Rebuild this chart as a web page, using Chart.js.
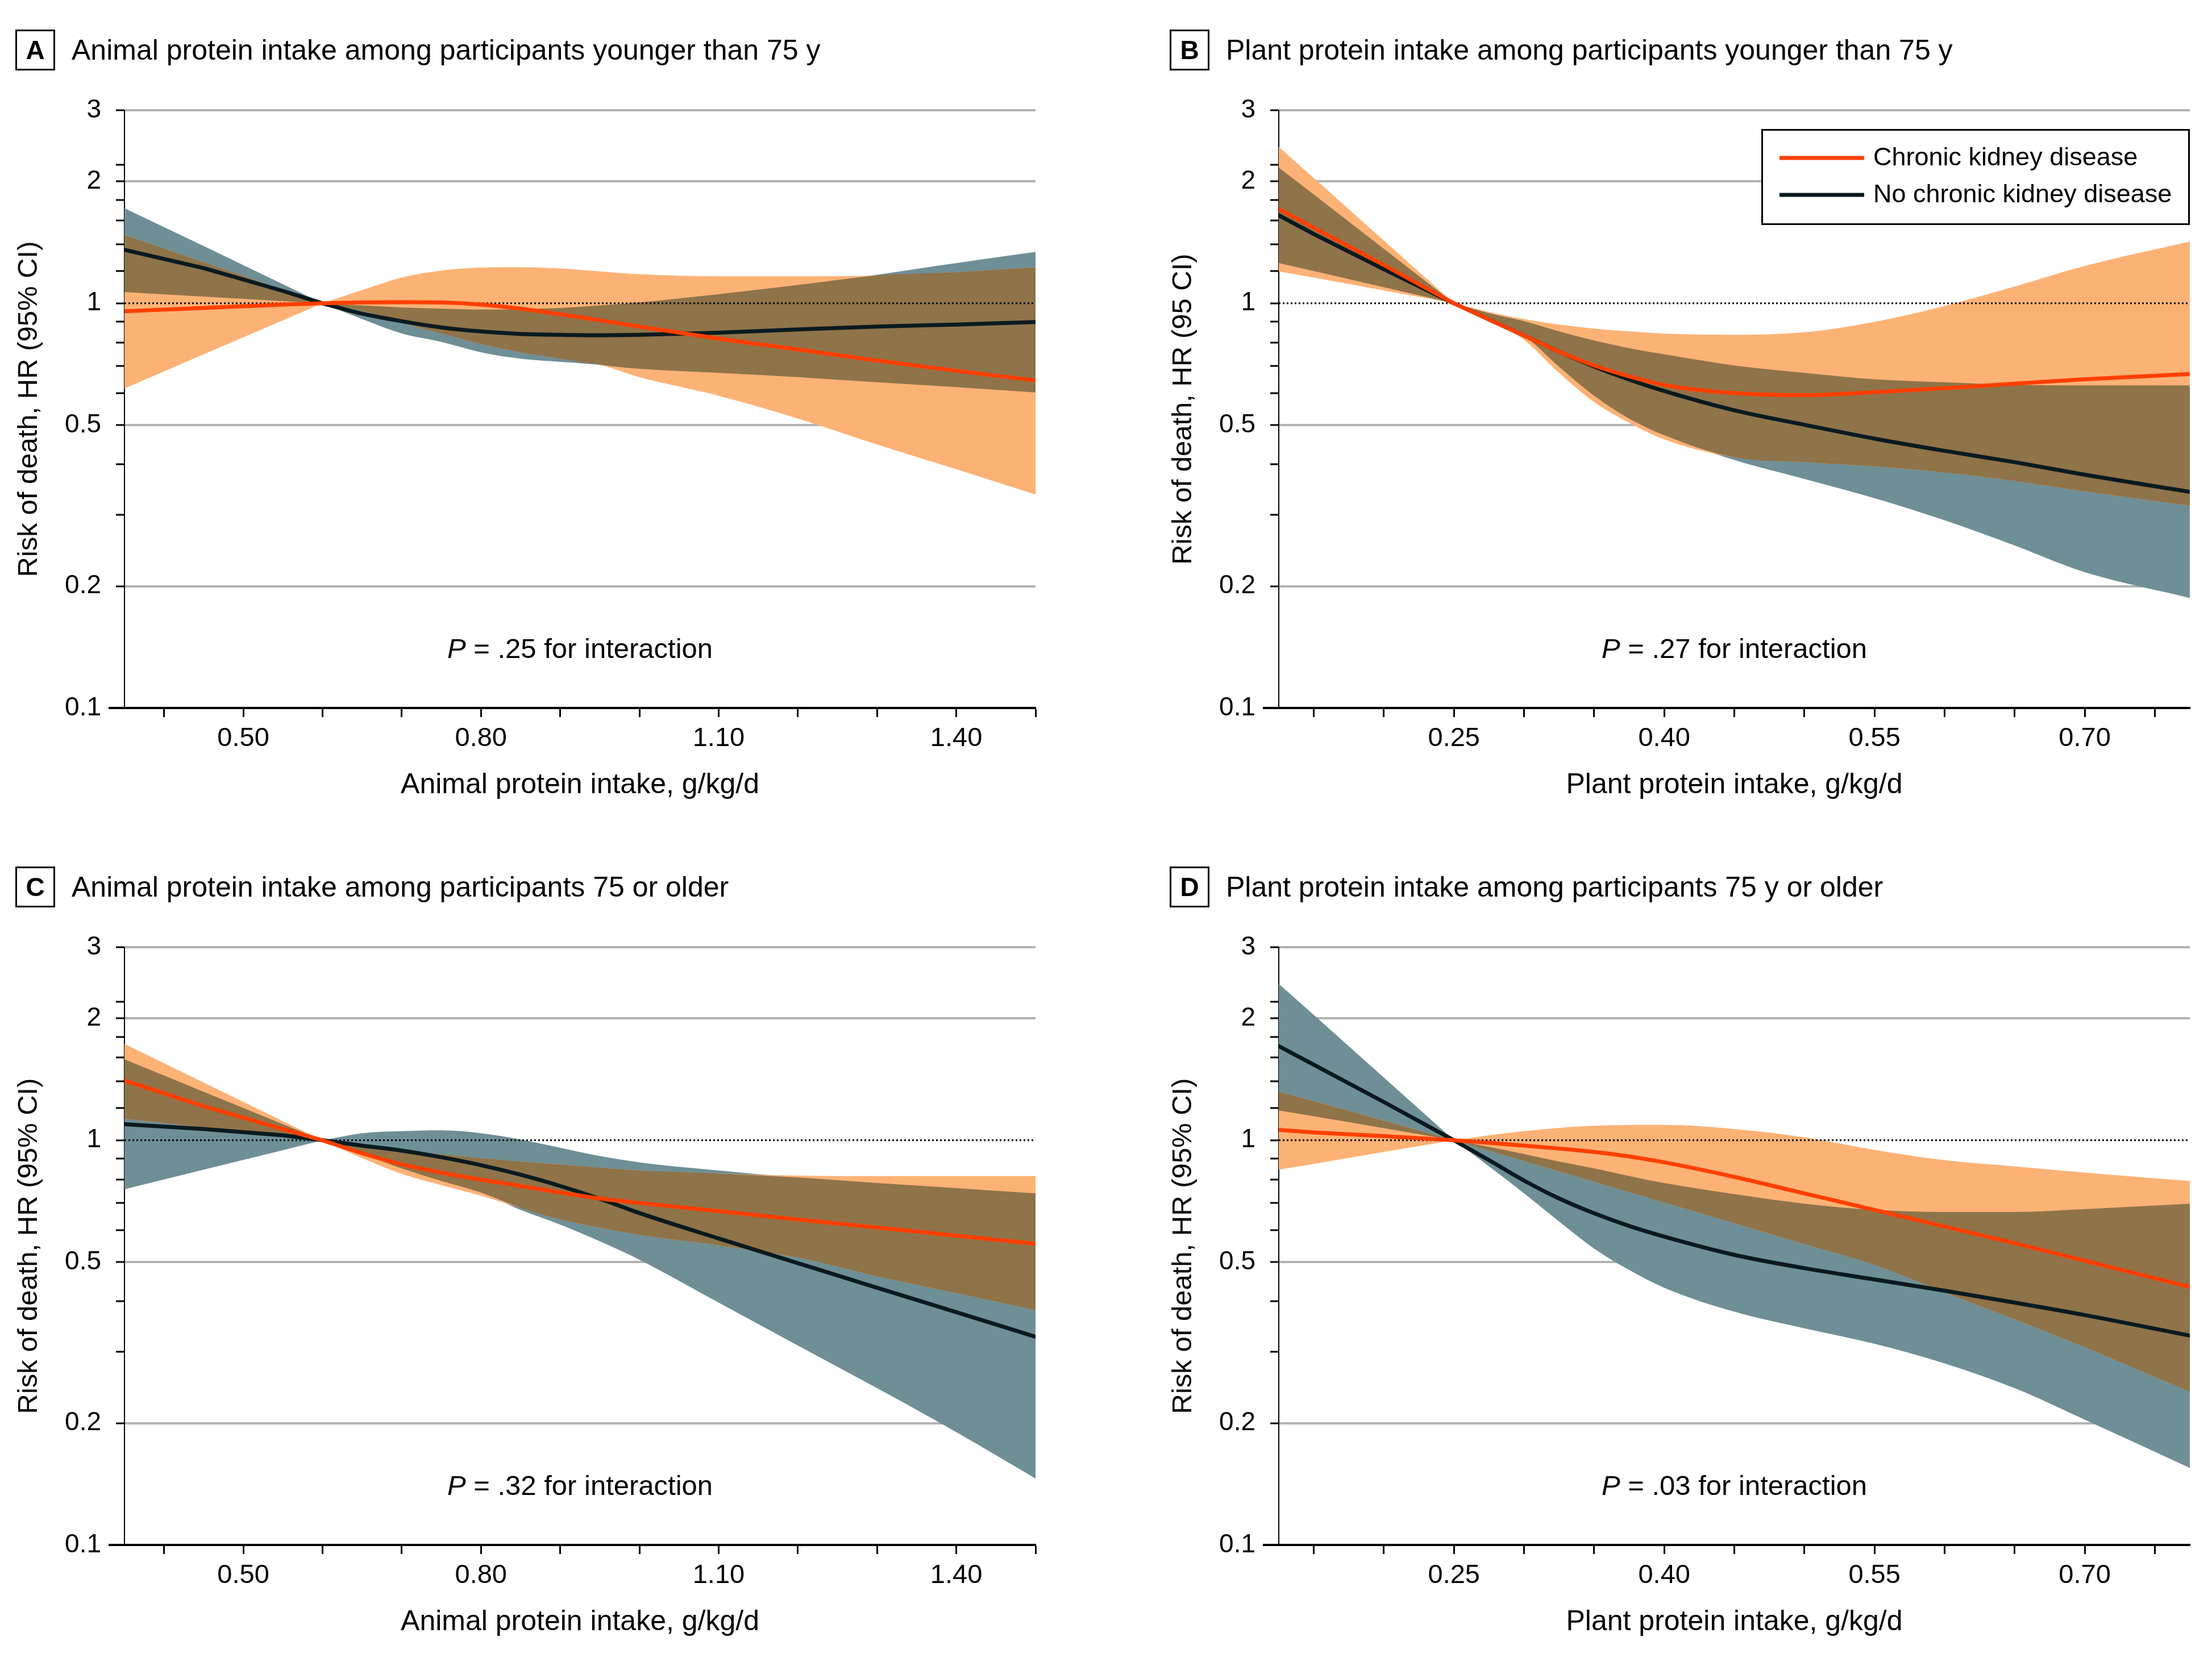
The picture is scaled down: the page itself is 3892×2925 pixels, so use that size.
<!DOCTYPE html>
<html>
<head>
<meta charset="utf-8">
<title>Protein intake and risk of death</title>
<script src="https://cdn.jsdelivr.net/npm/chart.js@4.4.1/dist/chart.umd.min.js"></script>
<style>
    html, body { margin: 0; padding: 0; background: #fff; overflow: hidden; }
    #wrap { position: relative; width: 3892px; height: 2925px; }
    canvas { position: absolute; }
</style>
</head>
<body>
<div id="wrap">
    <canvas id="chrtA" width="1861" height="1452" style="left:0px;top:0px"></canvas>
    <canvas id="chrtB" width="1861" height="1452" style="left:2031px;top:0px"></canvas>
    <canvas id="chrtC" width="1861" height="1452" style="left:0px;top:1473px"></canvas>
    <canvas id="chrtD" width="1861" height="1452" style="left:2031px;top:1473px"></canvas>
</div>
<script>
((d) => {
    // ---- data (HR, log scale) ----
    // A: animal protein, younger than 75 y
    const xA = [0.35, 0.45, 0.55, 0.60, 0.65, 0.70, 0.75, 0.80, 0.85, 0.90, 0.95, 1.00, 1.10, 1.20, 1.30, 1.40, 1.50]
    const ckdA = [0.956, 0.974, 0.993, 1, 1.005, 1.007, 1.005, 0.993, 0.970, 0.940, 0.908, 0.876, 0.818, 0.769, 0.722, 0.681, 0.645]
    const ckdLoA = [0.616, 0.748, 0.908, 1, 0.958, 0.897, 0.842, 0.793, 0.757, 0.730, 0.705, 0.657, 0.591, 0.519, 0.448, 0.389, 0.337]
    const ckdHiA = [1.476, 1.263, 1.081, 1, 1.078, 1.158, 1.205, 1.225, 1.228, 1.219, 1.199, 1.180, 1.166, 1.166, 1.171, 1.194, 1.228]
    const noCkdA = [1.356, 1.222, 1.073, 1, 0.943, 0.903, 0.872, 0.852, 0.840, 0.836, 0.834, 0.836, 0.846, 0.862, 0.876, 0.886, 0.899]
    const noCkdLoA = [1.066, 1.039, 1.012, 1, 0.914, 0.842, 0.803, 0.757, 0.730, 0.717, 0.705, 0.689, 0.673, 0.657, 0.638, 0.621, 0.602]
    const noCkdHiA = [1.718, 1.385, 1.115, 1, 0.988, 0.977, 0.970, 0.965, 0.967, 0.974, 0.988, 1.005, 1.053, 1.110, 1.177, 1.257, 1.340]

    // B: plant protein, younger than 75 y
    const xB = [0.125, 0.15, 0.20, 0.25, 0.275, 0.30, 0.325, 0.35, 0.375, 0.40, 0.45, 0.50, 0.55, 0.60, 0.65, 0.70, 0.775]
    const ckdB = [1.709, 1.537, 1.243, 1, 0.912, 0.832, 0.760, 0.702, 0.660, 0.628, 0.600, 0.593, 0.603, 0.617, 0.633, 0.649, 0.669]
    const ckdLoB = [1.199, 1.158, 1.076, 1, 0.910, 0.812, 0.673, 0.570, 0.507, 0.461, 0.416, 0.405, 0.395, 0.382, 0.364, 0.343, 0.316]
    const ckdHiB = [2.436, 2.041, 1.428, 1, 0.952, 0.914, 0.886, 0.866, 0.852, 0.842, 0.836, 0.848, 0.900, 0.985, 1.100, 1.237, 1.422]
    const noCkdB = [1.650, 1.483, 1.214, 1, 0.912, 0.832, 0.760, 0.698, 0.648, 0.607, 0.544, 0.501, 0.463, 0.432, 0.405, 0.377, 0.342]
    const noCkdLoB = [1.257, 1.202, 1.096, 1, 0.918, 0.832, 0.697, 0.591, 0.519, 0.472, 0.410, 0.368, 0.330, 0.291, 0.252, 0.2165, 0.187]
    const noCkdHiB = [2.165, 1.857, 1.363, 1, 0.945, 0.903, 0.852, 0.809, 0.775, 0.748, 0.702, 0.673, 0.649, 0.638, 0.629, 0.627, 0.627]

    // C: animal protein, 75 or older
    const xC = [0.35, 0.45, 0.55, 0.60, 0.65, 0.70, 0.75, 0.80, 0.85, 0.90, 0.95, 1.00, 1.10, 1.20, 1.30, 1.40, 1.50]
    const ckdC = [1.405, 1.214, 1.066, 1, 0.929, 0.872, 0.832, 0.799, 0.771, 0.743, 0.718, 0.700, 0.668, 0.637, 0.609, 0.581, 0.555]
    const ckdLoC = [1.131, 1.076, 1.024, 1, 0.903, 0.826, 0.775, 0.730, 0.681, 0.638, 0.608, 0.584, 0.550, 0.513, 0.461, 0.419, 0.380]
    const ckdHiC = [1.730, 1.389, 1.115, 1, 0.970, 0.940, 0.923, 0.903, 0.886, 0.872, 0.856, 0.842, 0.828, 0.818, 0.816, 0.816, 0.816]
    const noCkdC = [1.096, 1.066, 1.029, 1, 0.970, 0.943, 0.908, 0.868, 0.822, 0.771, 0.717, 0.661, 0.572, 0.497, 0.432, 0.376, 0.327]
    const noCkdLoC = [0.757, 0.846, 0.945, 1, 0.925, 0.852, 0.793, 0.743, 0.673, 0.619, 0.563, 0.507, 0.397, 0.311, 0.244, 0.190, 0.146]
    const noCkdHiC = [1.585, 1.318, 1.096, 1, 1.041, 1.053, 1.058, 1.041, 1.005, 0.958, 0.914, 0.882, 0.842, 0.809, 0.784, 0.762, 0.739]

    // D: plant protein, 75 y or older
    const xD = [0.125, 0.15, 0.20, 0.25, 0.275, 0.30, 0.325, 0.35, 0.375, 0.40, 0.45, 0.50, 0.55, 0.60, 0.65, 0.70, 0.775]
    const ckdD = [1.061, 1.046, 1.024, 1, 0.986, 0.970, 0.954, 0.936, 0.912, 0.882, 0.812, 0.739, 0.673, 0.612, 0.557, 0.504, 0.434]
    const ckdLoD = [0.846, 0.874, 0.936, 1, 0.943, 0.889, 0.838, 0.790, 0.744, 0.702, 0.624, 0.554, 0.492, 0.421, 0.361, 0.308, 0.239]
    const ckdHiD = [1.318, 1.249, 1.117, 1, 1.029, 1.053, 1.073, 1.086, 1.091, 1.091, 1.066, 1.017, 0.947, 0.893, 0.862, 0.832, 0.793]
    const noCkdD = [1.709, 1.537, 1.243, 1, 0.893, 0.795, 0.718, 0.660, 0.614, 0.578, 0.521, 0.483, 0.453, 0.425, 0.397, 0.370, 0.329]
    const noCkdLoD = [1.185, 1.147, 1.071, 1, 0.862, 0.739, 0.630, 0.540, 0.478, 0.432, 0.377, 0.343, 0.314, 0.281, 0.244, 0.204, 0.155]
    const noCkdHiD = [2.436, 2.041, 1.428, 1, 0.963, 0.925, 0.886, 0.852, 0.816, 0.784, 0.736, 0.697, 0.673, 0.665, 0.665, 0.676, 0.697]

    // ---- axes ----
    const animalRange = [0.35, 1.50]
    const animalRef = 0.60
    const animalTicks = [0.4, 0.5, 0.6, 0.7, 0.8, 0.9, 1.0, 1.1, 1.2, 1.3, 1.4, 1.5]
    const animalTickLabels = ["0.50", "0.80", "1.10", "1.40"]
    const plantRange = [0.125, 0.775]
    const plantRef = 0.25
    const plantTicks = [0.15, 0.20, 0.25, 0.30, 0.35, 0.40, 0.45, 0.50, 0.55, 0.60, 0.65, 0.70, 0.75]
    const plantTickLabels = ["0.25", "0.40", "0.55", "0.70"]
    const hrRange = [0.1, 3]
    const hrTicks = [0.1, 0.2, 0.3, 0.4, 0.5, 0.6, 0.7, 0.8, 0.9, 1, 1.2, 1.4, 1.6, 1.8, 2, 2.2, 3]
    const hrTickLabels = ["0.1", "0.2", "0.5", "1", "2", "3"]
    const hrGridLines = [0.2, 0.5, 2, 3]
    const hrReference = 1

    const seriesNames = ["Chronic kidney disease", "No chronic kidney disease"]

    const FONT = '"Liberation Sans", Arial, sans-serif'
    const COL_CKD = "#ff3f00",
        COL_NOCKD = "#0a1a1f",
        COL_CKD_BAND = "#fdb275",
        COL_NOCKD_BAND = "#6e8f95",
        COL_BOTH = "#8f7349",
        NONE = "rgba(0,0,0,0)"

    Chart.defaults.font.family = FONT
    Chart.defaults.color = "#000"

    function toPoints(xs, ys) {
        return xs.map((x, i) => ({ x: x, y: ys[i] }))
    }

    function bandOverlap(loA, hiA, loB, hiB) {
        let lo = [], hi = []
        for (let i = 0; i < loA.length; i++) {
            let l = Math.max(loA[i], loB[i]),
                h = Math.min(hiA[i], hiB[i])
            if (h < l) h = l
            lo.push(l)
            hi.push(h)
        }
        return { lo, hi }
    }

    // titles, P note, legend and the bit of x axis under the y ticks
    const panelDecor = {
        id: "panelDecor",
        afterDraw(chart, args, o) {
            const { ctx, chartArea: ca, scales } = chart
            ctx.save()
            const yb = scales.y.getPixelForValue(hrRange[0])
            ctx.strokeStyle = "#000"
            ctx.lineWidth = 4
            ctx.beginPath()
            ctx.moveTo(ca.left - 28, yb)
            ctx.lineTo(ca.left, yb)
            ctx.stroke()

            // panel letter in a box
            ctx.lineWidth = 3
            ctx.strokeRect(28.5, 53.5, 67, 69)
            ctx.fillStyle = "#000"
            ctx.font = "bold 46px " + FONT
            ctx.textAlign = "center"
            ctx.textBaseline = "alphabetic"
            ctx.fillText(o.letter, 62, 104)
            ctx.textAlign = "left"
            ctx.font = "50px " + FONT
            ctx.fillText(o.title, 126, 105)

            // P for interaction
            const noteY = ca.bottom - 88
            ctx.font = "italic 49px " + FONT
            const wP = ctx.measureText("P").width
            ctx.font = "49px " + FONT
            const rest = " = " + o.p + " for interaction"
            const wR = ctx.measureText(rest).width
            let nx = (ca.left + ca.right) / 2 - (wP + wR) / 2
            ctx.font = "italic 49px " + FONT
            ctx.fillText("P", nx, noteY)
            ctx.font = "49px " + FONT
            ctx.fillText(rest, nx + wP, noteY)

            if (o.legend) {
                const bw = 754, bh = 169, bx = ca.right - bw, by = 227
                ctx.fillStyle = "#fff"
                ctx.fillRect(bx, by, bw, bh)
                ctx.lineWidth = 3
                ctx.strokeStyle = "#000"
                ctx.strokeRect(bx + 1.5, by + 1.5, bw - 3, bh - 3)
                const rows = [[seriesNames[0], COL_CKD, by + 51], [seriesNames[1], COL_NOCKD, by + 116]]
                ctx.font = "45px " + FONT
                ctx.textBaseline = "middle"
                for (let r of rows) {
                    ctx.strokeStyle = r[1]
                    ctx.lineWidth = 7
                    ctx.beginPath()
                    ctx.moveTo(bx + 32, r[2])
                    ctx.lineTo(bx + 181, r[2])
                    ctx.stroke()
                    ctx.fillStyle = "#000"
                    ctx.fillText(r[0], bx + 197, r[2] + 1)
                }
            }
            ctx.restore()
        }
    }

    // every series is split at the reference intake (HR = 1): straight on the left, smooth on the right
    function Panel_Datasets(p) {
        const k = p.x.findIndex(v => Math.abs(v - p.pivot) < 1e-9)
        const parts = [
            [0, k + 1, { tension: 0 }],
            [k, p.x.length, { cubicInterpolationMode: "monotone" }]
        ]
        const ov = bandOverlap(p.noCkdLo, p.noCkdHi, p.ckdLo, p.ckdHi)
        const bands = [
            [p.noCkdLo, p.noCkdHi, COL_NOCKD_BAND, 9],
            [p.ckdLo, p.ckdHi, COL_CKD_BAND, 7],
            [ov.lo, ov.hi, COL_BOTH, 5]
        ]
        let ds = []
        for (let b of bands) {
            for (let [s, e, interp] of parts) {
                ds.push(Object.assign({
                    data: toPoints(p.x.slice(s, e), b[0].slice(s, e)),
                    borderWidth: 0, borderColor: NONE, pointRadius: 0, fill: false, order: b[3], clip: 0
                }, interp))
                ds.push(Object.assign({
                    data: toPoints(p.x.slice(s, e), b[1].slice(s, e)),
                    borderWidth: 0, borderColor: NONE, backgroundColor: b[2], pointRadius: 0,
                    fill: "-1", order: b[3] - 1, clip: 0
                }, interp))
            }
        }
        ds.push({
            data: [{ x: p.range[0], y: hrReference }, { x: p.range[1], y: hrReference }],
            borderWidth: 3, borderColor: "#000", borderDash: [3, 4], pointRadius: 0, fill: false, order: 3, clip: 0
        })
        const curves = [[p.noCkd, COL_NOCKD, 2], [p.ckd, COL_CKD, 1]]
        for (let c of curves) {
            for (let [s, e, interp] of parts) {
                ds.push(Object.assign({
                    data: toPoints(p.x.slice(s, e), c[0].slice(s, e)),
                    borderWidth: 7, borderColor: c[1], pointRadius: 0, fill: false, order: c[2],
                    borderCapStyle: "round", borderJoinStyle: "round", clip: 0
                }, interp))
            }
        }
        return ds
    }

    function Panel_Draw(canvasId, p) {
        return new Chart(d.getElementById(canvasId), {
            type: "line",
            data: { datasets: Panel_Datasets(p) },
            options: {
                responsive: false,
                animation: false,
                devicePixelRatio: 1,
                events: [],
                layout: { padding: { left: 0, right: 39, top: 194, bottom: 0 } },
                plugins: {
                    legend: { display: false },
                    tooltip: { enabled: false },
                    panelDecor: { letter: p.letter, title: p.title, p: p.pval, legend: p.legend }
                },
                scales: {
                    x: {
                        type: "linear",
                        min: p.range[0],
                        max: p.range[1],
                        afterBuildTicks: s => { s.ticks = p.ticks.map(v => ({ value: v })) },
                        afterFit: s => { s.height = 206 },
                        ticks: {
                            autoSkip: false, maxRotation: 0, padding: 10,
                            font: { size: 47 }, color: "#000",
                            callback: v => p.tickLabels.find(l => Math.abs(parseFloat(l) - v) < 1e-6) || ""
                        },
                        grid: { drawOnChartArea: false, drawTicks: true, tickLength: 16, tickColor: "#000", tickWidth: 3 },
                        border: { display: true, color: "#000", width: 4 },
                        title: { display: true, text: p.xTitle, font: { size: 50 }, color: "#000", padding: { top: 0, bottom: 40 } }
                    },
                    y: {
                        type: "logarithmic",
                        min: hrRange[0],
                        max: hrRange[1],
                        z: 1,
                        afterBuildTicks: s => { s.ticks = hrTicks.map(v => ({ value: v })) },
                        afterFit: s => { s.width = 219 },
                        ticks: {
                            autoSkip: false, padding: 26, font: { size: 46 }, color: "#000",
                            callback: v => hrTickLabels.includes(String(v)) ? String(v) : ""
                        },
                        grid: {
                            drawTicks: true, tickLength: 15, tickColor: "#000", tickWidth: 3, lineWidth: 4,
                            color: c => (c.tick && hrGridLines.includes(c.tick.value)) ? "rgba(0,0,0,0.3)" : NONE
                        },
                        border: { display: true, color: "#000", width: 2 },
                        title: { display: true, text: p.yTitle, font: { size: 49 }, color: "#000", padding: { top: 22, bottom: 0 } }
                    }
                }
            },
            plugins: [panelDecor]
        })
    }

    d.addEventListener("DOMContentLoaded", e => {
        Panel_Draw("chrtA", {
            letter: "A", title: "Animal protein intake among participants younger than 75 y", pval: ".25", legend: false,
            x: xA, ckd: ckdA, ckdLo: ckdLoA, ckdHi: ckdHiA, noCkd: noCkdA, noCkdLo: noCkdLoA, noCkdHi: noCkdHiA,
            range: animalRange, pivot: animalRef, ticks: animalTicks, tickLabels: animalTickLabels,
            xTitle: "Animal protein intake, g/kg/d", yTitle: "Risk of death, HR (95% CI)"
        })
        Panel_Draw("chrtB", {
            letter: "B", title: "Plant protein intake among participants younger than 75 y", pval: ".27", legend: true,
            x: xB, ckd: ckdB, ckdLo: ckdLoB, ckdHi: ckdHiB, noCkd: noCkdB, noCkdLo: noCkdLoB, noCkdHi: noCkdHiB,
            range: plantRange, pivot: plantRef, ticks: plantTicks, tickLabels: plantTickLabels,
            xTitle: "Plant protein intake, g/kg/d", yTitle: "Risk of death, HR (95 CI)"
        })
        Panel_Draw("chrtC", {
            letter: "C", title: "Animal protein intake among participants 75 or older", pval: ".32", legend: false,
            x: xC, ckd: ckdC, ckdLo: ckdLoC, ckdHi: ckdHiC, noCkd: noCkdC, noCkdLo: noCkdLoC, noCkdHi: noCkdHiC,
            range: animalRange, pivot: animalRef, ticks: animalTicks, tickLabels: animalTickLabels,
            xTitle: "Animal protein intake, g/kg/d", yTitle: "Risk of death, HR (95% CI)"
        })
        Panel_Draw("chrtD", {
            letter: "D", title: "Plant protein intake among participants 75 y or older", pval: ".03", legend: false,
            x: xD, ckd: ckdD, ckdLo: ckdLoD, ckdHi: ckdHiD, noCkd: noCkdD, noCkdLo: noCkdLoD, noCkdHi: noCkdHiD,
            range: plantRange, pivot: plantRef, ticks: plantTicks, tickLabels: plantTickLabels,
            xTitle: "Plant protein intake, g/kg/d", yTitle: "Risk of death, HR (95% CI)"
        })
    })
})(document)
</script>
</body>
</html>
